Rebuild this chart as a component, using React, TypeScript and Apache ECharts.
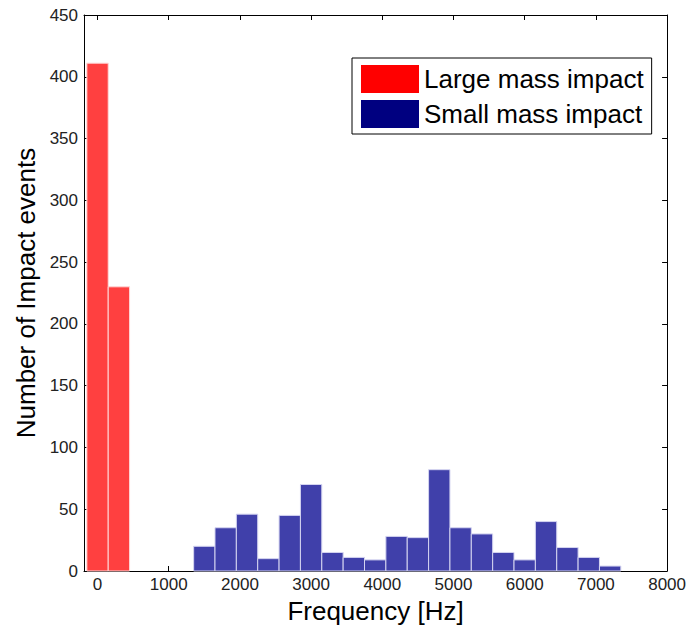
import React, { useEffect, useRef } from "react";
import * as echarts from "echarts";

const binWidth = 300;
const largeCenters = [0, 300];
const largeCounts = [411, 230];
const smallCenters = [1500, 1800, 2100, 2400, 2700, 3000, 3300, 3600, 3900, 4200, 4500, 4800, 5100, 5400, 5700, 6000, 6300, 6600, 6900, 7200];
const smallCounts = [20, 35, 46, 10, 45, 70, 15, 11, 9, 28, 27, 82, 35, 30, 15, 9, 40, 19, 11, 4];
const xTicks = [0, 1000, 2000, 3000, 4000, 5000, 6000, 7000, 8000];
const seriesNames = ["Large mass impact", "Small mass impact"];

const FONT = "Liberation Sans, Arial, sans-serif";

function makeRender(fill: string, stroke: string) {
  return (params: any, api: any) => {
    const c = api.value(0);
    const v = api.value(1);
    const p1 = api.coord([c - binWidth / 2, v]);
    const p0 = api.coord([c + binWidth / 2, 0]);
    return {
      type: "rect",
      shape: { x: p1[0], y: p1[1], width: p0[0] - p1[0], height: p0[1] - p1[1] },
      style: { fill, stroke, lineWidth: 1 },
    };
  };
}

export default function App() {
  const ref = useRef<HTMLDivElement>(null);
  useEffect(() => {
    if (!ref.current) return;
    const chart = echarts.init(ref.current, undefined, { renderer: "svg" });
    const axisCommon = {
      splitLine: { show: false },
      axisLine: { show: true, onZero: false, lineStyle: { color: "#000", width: 1 } },
    };
    chart.setOption({
      animation: false,
      backgroundColor: "#fff",
      grid: { left: 84, right: 21, top: 15, bottom: 61 },
      legend: {
        left: 352,
        top: 58,
        orient: "vertical",
        icon: "rect",
        itemWidth: 58,
        itemHeight: 28,
        itemGap: 7,
        padding: [7, 8, 6, 9],
        borderColor: "#000",
        borderWidth: 1,
        backgroundColor: "#fff",
        textStyle: { fontSize: 26, color: "#000", fontFamily: FONT },
        data: [
          { name: seriesNames[0], itemStyle: { color: "#ff0000" } },
          { name: seriesNames[1], itemStyle: { color: "#000080" } },
        ],
      },
      xAxis: [
        {
          type: "value",
          min: -190,
          max: 8000,
          position: "bottom",
          ...axisCommon,
          name: "Frequency [Hz]",
          nameLocation: "middle",
          nameGap: 25,
          nameTextStyle: { fontSize: 26, color: "#000", fontFamily: FONT },
          axisTick: { show: true, inside: true, length: 5, customValues: xTicks, lineStyle: { color: "#000" } },
          axisLabel: {
            show: true,
            customValues: xTicks,
            margin: 5,
            fontSize: 17,
            color: "#222",
            fontFamily: FONT,
            formatter: (v: number) => String(v),
          },
        },
        {
          type: "value",
          min: -190,
          max: 8000,
          position: "top",
          ...axisCommon,
          axisTick: { show: true, inside: true, length: 5, customValues: xTicks, lineStyle: { color: "#000" } },
          axisLabel: { show: false },
        },
      ],
      yAxis: [
        {
          type: "value",
          min: 0,
          max: 450,
          interval: 50,
          position: "left",
          ...axisCommon,
          name: "Number of Impact events",
          nameLocation: "middle",
          nameGap: 43,
          nameTextStyle: { fontSize: 26, color: "#000", fontFamily: FONT },
          axisTick: { show: true, inside: true, length: 5, lineStyle: { color: "#000" } },
          axisLabel: { show: true, margin: 6, fontSize: 17, color: "#222", fontFamily: FONT },
        },
        {
          type: "value",
          min: 0,
          max: 450,
          interval: 50,
          position: "right",
          ...axisCommon,
          axisTick: { show: true, inside: true, length: 5, lineStyle: { color: "#000" } },
          axisLabel: { show: false },
        },
      ],
      series: [
        {
          name: seriesNames[0],
          type: "custom",
          xAxisIndex: 0,
          yAxisIndex: 0,
          itemStyle: { color: "#ff4040" },
          renderItem: makeRender("#ff4040", "#ffd6d6"),
          encode: { x: 0, y: 1 },
          data: largeCenters.map((c, i) => [c, largeCounts[i]]),
        },
        {
          name: seriesNames[1],
          type: "custom",
          xAxisIndex: 0,
          yAxisIndex: 0,
          itemStyle: { color: "#4040aa" },
          renderItem: makeRender("#4040aa", "#d4d4f0"),
          encode: { x: 0, y: 1 },
          data: smallCenters.map((c, i) => [c, smallCounts[i]]),
        },
      ],
    });
    return () => chart.dispose();
  }, []);
  return <div ref={ref} style={{ width: 689, height: 632, position: "absolute", left: 0, top: 0 }} />;
}
